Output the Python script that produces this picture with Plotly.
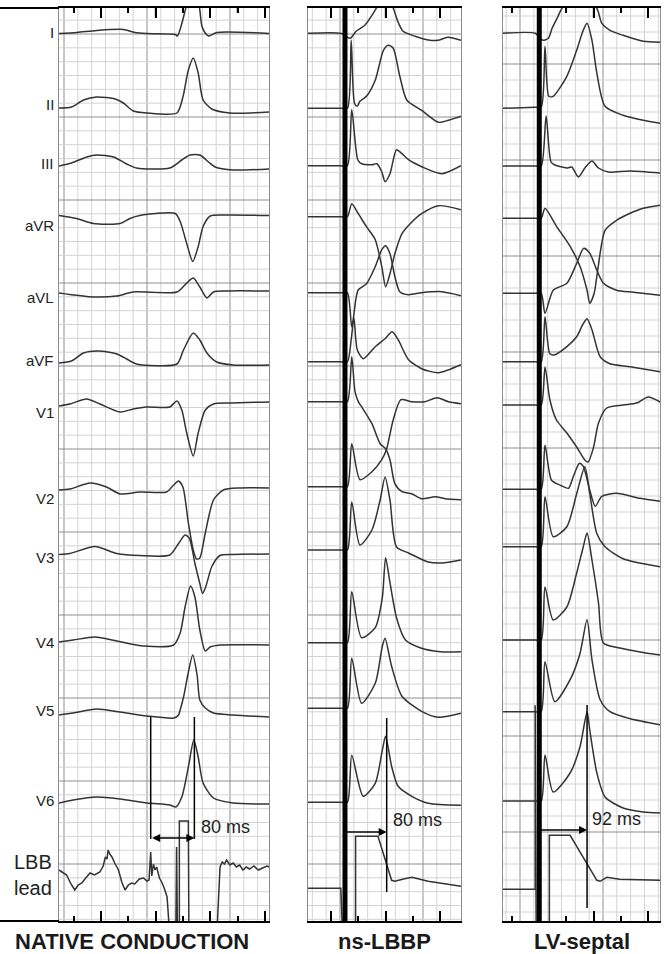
import plotly.graph_objects as go

LEADS = ["I", "II", "III", "aVR", "aVL", "aVF", "V1", "V2", "V3", "V4", "V5", "V6", "LBB"]
PANEL_TITLES = ["NATIVE CONDUCTION", "ns-LBBP", "LV-septal"]

# ---- native conduction: time (ms) / amplitude per lead ----
native_ms = {
    "I": [-77, -44, -8, 41, 62, 84, 136, 140, 148, 156, 167, 180, 185, 194, 198, 212, 308],
    "II": [-77, -54, -32, -8, 26, 41, 59, 84, 139, 150, 160, 169, 178, 187, 203, 236, 308],
    "III": [-77, -54, -26, -8, 23, 47, 65, 126, 148, 163, 181, 197, 209, 242, 308],
    "aVR": [-77, -45, -14, 35, 53, 71, 136, 145, 157, 168, 178, 187, 200, 230, 308],
    "aVL": [-77, -14, 29, 59, 139, 157, 169, 181, 194, 206, 230, 308],
    "aVF": [-77, -54, -32, -5, 29, 47, 65, 139, 151, 169, 181, 194, 212, 242, 308],
    "V1": [-77, -57, -26, -2, 35, 59, 84, 126, 139, 148, 157, 169, 178, 191, 206, 236, 308],
    "V2": [-77, -57, -20, 10, 35, 71, 120, 133, 142, 150, 160, 169, 175, 181, 191, 206, 224, 255, 308],
    "V3": [-77, -57, -11, 29, 71, 126, 142, 154, 162, 172, 181, 186, 192, 203, 218, 242, 308],
    "V4": [-77, -51, -11, 29, 78, 133, 145, 154, 164, 172, 181, 191, 200, 218, 308],
    "V5": [-77, -51, -8, 35, 84, 133, 142, 145, 152, 159, 168, 176, 181, 191, 206, 242, 308],
    "V6": [-77, -51, -8, 35, 84, 126, 137, 148, 160, 170, 178, 187, 206, 242, 308],
    "LBB": [-77, -69, -63, -55, -48, -42, -35, -28, -20, -12, -2, 4, 8, 11, 13, 16, 20, 26, 32,
            38, 44, 50, 56, 62, 70, 78, 84, 88, 91, 93, 96, 99, 102, 107, 112, 117, 121, 126,
            137, 138.5, 140, 143.5, 143.5, 160, 161, 212, 218, 222, 226, 230, 236, 242, 248,
            254, 260, 266, 272, 280, 288, 296, 304, 308],
}
native_amp = {
    "I": [0, 1, 3, 4, 1, 0, -1, -2.5, 10, 27, 48, 27, 7, -1.5, -2.5, 1, 0],
    "II": [2, 3, 10, 13, 11, 7, -1, -3, -3, 13, 40, 52, 37, 10, 1, -3, -2],
    "III": [0, 3, 9, 11, 9, 2, -2, -2, 6, 11, 11, 4, -1, -4, -3],
    "aVR": [0, -3, -8, -8, -3, 0, 2, -6, -28, -46, -31, -11, -0.5, 0.5, 0],
    "aVL": [-1, -5, -4, 0, 0, 9, 14, 5, -6, 0, 1, 1],
    "aVF": [1, 3, 11, 13, 10, 5, 0, 0, 14, 31, 24, 11, 2, -1, -1],
    "V1": [0, 2, 7, 2, -6, -3, -1, -1, 5, -4, -27, -50, -27, -4, 2, 3, 4],
    "V2": [0, 1, 7, 3, -4, -2, -2, 5, 9, 3, -33, -60, -69, -68, -43, -10, 0, 2, 2],
    "V3": [0, 1, 8, 1, -1, -0.5, 11, 19.5, 16, -9, -29, -39, -32, -12, -1, 0, 0.5],
    "V4": [1, 3, 6, 2, -3, -2, 10, 36, 57, 46, 13, -8, -4, -2, -2],
    "V5": [0, 2, 6, 3, -1, -3, 0, 5, 20, 40, 60, 40, 15, 7, 2, 0, -2],
    "V6": [0, 3, 6, 4, 0, -2, -4, 6, 36, 63, 46, 20, 5, 0, -1],
    "LBB": [6, 3, 1, -8, -14, -9, -7, -2, 3, 1, 4, 10, 19, 17, 26, 22, 19, 12, 6,
            -6, -14, -9, -7, -8, -3, -2, -5, -4, 24, 0, 12, 6, 9, -2, -7, -14, -21, -60,
            -60, 29, -60, -60, 55, 55, -60, -60, 9, 14, 12, 16, 11, 13, 9,
            11, 6, 9, 7, 10, 6, 8, 10, 9],
}

# ---- non-selective LBB pacing ----
nslbbp_ms = {
    "I": [-42, 18, 35, 46, 62, 75, 86, 99, 114, 123, 132, 154, 181, 196, 214, 238],
    "II": [-42, 18, 30, 37, 43, 48, 53, 65, 81, 96, 105, 114, 126, 139, 166, 197, 215, 238],
    "III": [-42, 18, 30, 38, 49, 56, 75, 84, 93, 99, 108, 120, 130, 142, 166, 203, 238],
    "aVR": [-42, 18, 30, 38, 50, 65, 81, 93, 100, 108, 117, 130, 145, 166, 197, 238],
    "aVL": [-42, 18, 30, 38, 46, 50, 65, 81, 93, 100, 108, 117, 126, 142, 166, 203, 238],
    "aVF": [-42, 18, 30, 37, 42, 48, 59, 81, 99, 112, 123, 142, 166, 197, 238],
    "V1": [-42, 18, 30, 38, 44, 50, 56, 75, 90, 100, 108, 117, 130, 148, 166, 191, 209, 238],
    "V2": [-42, 18, 30, 38, 53, 75, 93, 102, 114, 128, 148, 172, 194, 215, 238],
    "V3": [-42, 18, 30, 38, 53, 75, 90, 99, 108, 120, 142, 178, 203, 238],
    "V4": [-42, 18, 30, 38, 56, 81, 94, 100, 108, 120, 136, 163, 200, 238],
    "V5": [-42, 18, 30, 38, 56, 81, 94, 99, 111, 130, 166, 197, 238],
    "V6": [-42, 18, 30, 38, 59, 81, 94, 100, 111, 123, 148, 178, 238],
    "LBB": [-42, 18, 22, 45, 45, 86, 111, 117, 131, 148, 178, 238],
}
nslbbp_amp = {
    "I": [0, 0, -5, 2, 8, 18, 28, 41, 25, 11, 2, -3, -7, -7, -4, -7],
    "II": [0, 0, 0, 68, 5, 2, 7, 12, 28, 58, 63, 60, 32, 8, -2, -14, -12, -8],
    "III": [0, 0, 0, 56, 6, 2, 1, 2, -6, -16, -8, 16, 12, 6, -1, -8, 0],
    "aVR": [0, 0, 0, 13, 3, -10, -23, -50, -70, -57, -37, -17, -7, 3, 11, 7],
    "aVL": [0, 0, 0, -34, -5, 3, 9, 26, 43, 47, 39, 16, 1, -2, 0, 1, -3],
    "aVF": [0, 0, 0, 22, 44, 12, 3, 15, 23, 30, 22, 2, -7, -11, -3],
    "V1": [0, 0, 0, 45, 10, 0, -5, -22, -42, -47, -58, -82, -90, -92, -97, -95, -97, -98],
    "V2": [0, 0, 0, 43, 7, 15, 27, 38, 67, 87, 85, 85, 89, 85, 83],
    "V3": [0, 0, 0, 48, 5, 20, 50, 73, 50, 3, -3, -12, -13, -10],
    "V4": [0, 0, 0, 51, 5, 15, 45, 85, 60, 25, 3, -5, -9, -9],
    "V5": [0, 0, 0, 50, 5, 25, 62, 70, 42, 12, -3, -9, -5],
    "V6": [0, 0, 0, 47, 6, 19, 52, 66, 36, 16, 6, -1, -3],
    "LBB": [0, 0, -60, -60, 52, 52, 8, 7, 9, 11, 7, 2],
}

# ---- LV septal pacing ----
lvsp_ms = {
    "I": [-66, -7, 7, 17, 24, 33, 42, 71, 106, 115, 130, 154, 191, 222],
    "II": [-66, -7, 4, 11, 18, 26, 51, 69, 81, 88, 97, 106, 121, 154, 191, 222],
    "III": [-66, -7, 4, 13, 22, 29, 51, 60, 72, 84, 97, 109, 127, 167, 222],
    "aVR": [-66, -7, 4, 11, 32, 57, 75, 88, 93, 101, 108, 121, 142, 167, 191, 222],
    "aVL": [-66, -7, 4, 11, 26, 51, 69, 82, 93, 106, 118, 142, 173, 222],
    "aVF": [-66, -7, 4, 11, 20, 29, 51, 69, 81, 88, 97, 112, 130, 167, 222],
    "V1": [-66, -7, 4, 11, 20, 32, 51, 69, 84, 90, 100, 109, 124, 154, 179, 200, 222],
    "V2": [-66, -7, 4, 11, 23, 39, 54, 63, 74, 81, 93, 103, 115, 142, 185, 222],
    "V3": [-66, -7, 4, 11, 26, 51, 69, 84, 93, 106, 121, 154, 222],
    "V4": [-66, -7, 4, 11, 26, 51, 69, 81, 88, 97, 109, 118, 148, 185, 222],
    "V5": [-66, -7, 4, 11, 29, 57, 75, 88, 97, 112, 130, 167, 222],
    "V6": [-66, -7, 4, 11, 26, 57, 75, 88, 93, 106, 121, 154, 191, 222],
    "LBB": [-66, -7, -7, -5, 19, 19, 57, 106, 112, 124, 148, 222],
}
lvsp_amp = {
    "I": [0, 0, -7, -5, 5, 15, 25, 45, 25, 10, 3, -2, -8, -9],
    "II": [0, 1, 1, 62, 12, 12, 32, 58, 78, 85, 68, 35, 2, -7, -12, -15],
    "III": [0, 0, 0, 50, 4, 1, -2, -1, -11, -2, 5, -2, -6, -5, -7],
    "aVR": [0, 0, 0, 10, -8, -28, -48, -72, -85, -75, -50, -12, -2, 5, 10, 13],
    "aVL": [0, 0, 0, -20, 3, 10, 30, 45, 40, 23, 10, 3, 1, -2],
    "aVF": [0, 0, 0, 45, 8, 7, 15, 25, 38, 43, 32, 5, -2, -5, -10],
    "V1": [0, 0, 0, 38, 5, -15, -28, -42, -55, -57, -42, -18, -3, 0, 2, 8, 3],
    "V2": [0, 0, 0, 44, 9, 4, 1, 13, 26, 23, -1, -17, -7, -4, -9, -12],
    "V3": [0, 0, 0, 50, 10, 20, 53, 80, 53, 13, 0, -12, -20],
    "V4": [0, 0, 0, 53, 20, 33, 67, 93, 107, 80, 37, -3, -8, -12, -15],
    "V5": [0, 0, 0, 50, 10, 32, 58, 92, 52, 12, 0, -7, -13],
    "V6": [0, 0, 0, 46, 9, 28, 54, 89, 71, 28, 4, -7, -11, -12],
    "LBB": [0, 0, 184, -60, -60, 54, 54, 9, 8, 12, 10, 9],
}

stim_ms = [None, 25.6, 0.5]          # pacing stimulus artefact
interval_start = [91, 22, -4]        # caliper start (ms)
interval_end = [171, 102, 88]        # caliper end (ms)
interval_label = ["80 ms", "80 ms", "92 ms"]

# ---- layout constants (pixels of the 667 x 954 page) ----
W, H = 667, 954
PX_PER_MS = 0.546
TOP, BOTTOM = 8, 921
PANEL_X = [(59, 269, 101), (308, 461, 331), (503, 660, 539)]   # left, right, 0-ms position
ROW_Y = [
    [33.5, 110, 166, 215.5, 292, 364, 406, 490, 554.5, 643, 715, 803, 876],
    [33.3, 108.3, 165.7, 216.7, 292.7, 361.7, 401.7, 486.7, 550, 642.7, 708.3, 802.3, 888.3],
    [33.3, 108.3, 166, 218.3, 293.3, 361.7, 405, 489.3, 546.7, 640, 711.7, 801, 889.3],
]
LABEL_Y = [33, 105, 163, 225, 297, 360, 412, 498, 557, 642, 710, 800]
CALIPER = [  # (line top, line bottom, arrow y, text x, text y)
    (717, 839, 838, 199, 827),
    (718, 892, 832, 391, 820),
    (705, 908, 830, 590, 819),
]
GRID_V = [(147, 83), (340, 83), (520, 83)]
GRID_H = [(117, 83), (117, 83), (64, 96)]
MINOR_DIV = 6

FONT = "Liberation Sans, Arial, sans-serif"
TRACE_COLOR = "#333333"


def px(x):
    return x / W


def py(y):
    return 1 - y / H


panel_ms = [native_ms, nslbbp_ms, lvsp_ms]
panel_amp = [native_amp, nslbbp_amp, lvsp_amp]

fig = go.Figure()
shapes = []

for i in range(3):
    sfx = "" if i == 0 else str(i + 1)
    left, right, zero = PANEL_X[i]
    xr = [(left - zero) / PX_PER_MS, (right - zero) / PX_PER_MS]
    fig.update_layout(**{
        f"xaxis{sfx}": dict(
            domain=[px(left), px(right)], range=xr, anchor=f"y{sfx}",
            showgrid=False, zeroline=False, showline=True, linecolor="black",
            linewidth=2, mirror="ticks", ticks="inside", tick0=0, dtick=100,
            ticklen=10, tickwidth=1.5, tickcolor="black", showticklabels=False,
            minor=dict(dtick=50, ticks="inside", ticklen=5, tickwidth=1.5,
                       tickcolor="black"),
        ),
        f"yaxis{sfx}": dict(
            domain=[py(BOTTOM), py(TOP)], range=[-BOTTOM, -TOP], anchor=f"x{sfx}",
            showgrid=False, zeroline=False, showline=True, linecolor="#8c8c8c",
            linewidth=1, mirror=True, showticklabels=False, ticks="",
        ),
    })

    # top-edge time ticks (every 50 ms, longer every 100 ms)
    t = int(xr[0] // 50 + 1) * 50
    while t < xr[1]:
        tl = 10 if t % 100 == 0 else 5
        shapes.append(dict(type="line", xref=f"x{sfx}", yref="paper",
                           x0=t, x1=t, y0=py(TOP), y1=py(TOP + tl),
                           line=dict(color="black", width=1.5)))
        t += 50

    # recording-paper grid
    gx0, gsp = GRID_V[i]
    for k in range(-6, 6):
        for j in range(MINOR_DIV):
            x = gx0 + k * gsp + j * gsp / MINOR_DIV
            if left + 1 < x < right - 1:
                shapes.append(dict(type="line", xref="paper", yref="paper",
                                   x0=px(x), x1=px(x), y0=py(TOP), y1=py(BOTTOM),
                                   line=dict(color="#8f8f8f" if j == 0 else "#d3d3d3", width=1),
                                   layer="below"))
    gy0, gsp = GRID_H[i]
    for k in range(-2, 12):
        for j in range(MINOR_DIV):
            y = gy0 + k * gsp + j * gsp / MINOR_DIV
            if TOP + 1 < y < BOTTOM - 1:
                shapes.append(dict(type="line", xref="paper", yref="paper",
                                   x0=px(left), x1=px(right), y0=py(y), y1=py(y),
                                   line=dict(color="#8f8f8f" if j == 0 else "#d3d3d3", width=1),
                                   layer="below"))

    # ECG leads
    for r, lead in enumerate(LEADS):
        t = panel_ms[i][lead]
        a = panel_amp[i][lead]
        base = ROW_Y[i][r]
        fig.add_trace(go.Scatter(
            x=t, y=[v - base for v in a], xaxis=f"x{sfx}", yaxis=f"y{sfx}",
            mode="lines",
            line=dict(color=TRACE_COLOR, width=1.5,
                      shape="linear" if lead == "LBB" else "spline", smoothing=0.7),
            showlegend=False, hoverinfo="skip",
        ))

    # stimulus artefact
    if stim_ms[i] is not None:
        fig.add_trace(go.Scatter(
            x=[stim_ms[i], stim_ms[i]], y=[-BOTTOM, -TOP], xaxis=f"x{sfx}", yaxis=f"y{sfx}",
            mode="lines", line=dict(color="black", width=5),
            showlegend=False, hoverinfo="skip",
        ))

    # caliper
    ytop, ybot, yarr, tx, ty = CALIPER[i]
    ends = [interval_end[i]] if i else [interval_start[i], interval_end[i]]
    for t in ends:
        shapes.append(dict(type="line", xref=f"x{sfx}", yref=f"y{sfx}",
                           x0=t, x1=t, y0=-ytop, y1=-ybot,
                           line=dict(color="black", width=1.5)))
    fig.add_annotation(
        x=interval_end[i], y=-yarr, ax=interval_start[i], ay=-yarr,
        xref=f"x{sfx}", yref=f"y{sfx}", axref=f"x{sfx}", ayref=f"y{sfx}",
        text="", showarrow=True, arrowhead=2, arrowsize=1, arrowwidth=1.6,
        arrowcolor="black", arrowside="end+start" if i == 0 else "end",
        standoff=0, startstandoff=0,
    )
    fig.add_annotation(
        x=px(tx), y=py(ty), xref="paper", yref="paper", text=interval_label[i],
        showarrow=False, xanchor="left", yanchor="middle",
        font=dict(family=FONT, size=18, color="#222"),
    )

    # panel title
    fig.add_annotation(
        x=px((left + right) / 2 if i else 132), y=py(941), xref="paper", yref="paper",
        text=f"<b>{PANEL_TITLES[i]}</b>", showarrow=False, xanchor="center", yanchor="middle",
        font=dict(family=FONT, size=22, color="#1a1a1a"),
    )

# native top/bottom rules run out to the page edge
for y in (TOP, BOTTOM):
    shapes.append(dict(type="line", xref="paper", yref="paper", x0=0, x1=px(59),
                       y0=py(y), y1=py(y), line=dict(color="black", width=2)))

# lead labels
for lead, y in zip(LEADS[:-1], LABEL_Y):
    fig.add_annotation(x=px(56), y=py(y), xref="paper", yref="paper", text=lead,
                       showarrow=False, xanchor="right", yanchor="middle",
                       font=dict(family=FONT, size=15, color="#222"))
fig.add_annotation(x=px(54), y=py(875), xref="paper", yref="paper", text="LBB<br>lead",
                   showarrow=False, xanchor="right", yanchor="middle", align="left",
                   font=dict(family=FONT, size=20, color="#222"))

fig.update_layout(
    width=W, height=H, margin=dict(l=0, r=0, t=0, b=0),
    paper_bgcolor="white", plot_bgcolor="rgba(0,0,0,0)",
    shapes=shapes, showlegend=False,
)

fig.write_html("out.html", config={"displayModeBar": False},
               post_script="document.body.style.margin='0';")
